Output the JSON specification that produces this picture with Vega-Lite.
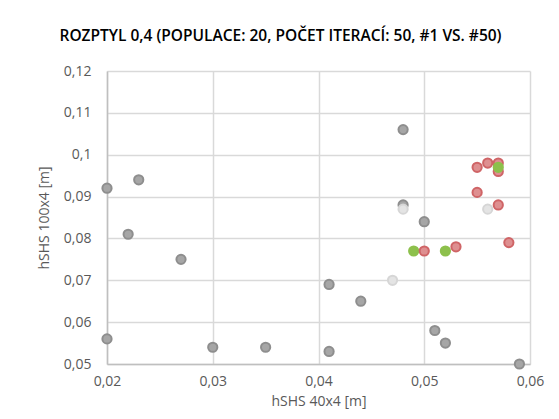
{
  "$schema": "https://vega.github.io/schema/vega-lite/v6.json",
  "width": 423,
  "height": 293,
  "autosize": "none",
  "padding": {"left": 107, "top": 71, "right": 29, "bottom": 55},
  "background": "white",
  "title": {
    "text": "ROZPTYL 0,4 (POPULACE: 20, POČET ITERACÍ: 50, #1 VS. #50)",
    "font": "Open Sans",
    "fontSize": 15.5,
    "fontWeight": 600,
    "color": "#000000",
    "anchor": "middle",
    "dx": -38,
    "offset": 20
  },
  "data": {
    "values": [
      {"x": 0.020, "y": 0.092, "s": "gray"},
      {"x": 0.020, "y": 0.056, "s": "gray"},
      {"x": 0.023, "y": 0.094, "s": "gray"},
      {"x": 0.022, "y": 0.081, "s": "gray"},
      {"x": 0.027, "y": 0.075, "s": "gray"},
      {"x": 0.030, "y": 0.054, "s": "gray"},
      {"x": 0.035, "y": 0.054, "s": "gray"},
      {"x": 0.041, "y": 0.053, "s": "gray"},
      {"x": 0.041, "y": 0.069, "s": "gray"},
      {"x": 0.044, "y": 0.065, "s": "gray"},
      {"x": 0.048, "y": 0.106, "s": "gray"},
      {"x": 0.048, "y": 0.088, "s": "gray"},
      {"x": 0.050, "y": 0.084, "s": "gray"},
      {"x": 0.051, "y": 0.058, "s": "gray"},
      {"x": 0.052, "y": 0.055, "s": "gray"},
      {"x": 0.059, "y": 0.050, "s": "gray"},
      {"x": 0.048, "y": 0.087, "s": "light"},
      {"x": 0.047, "y": 0.070, "s": "light"},
      {"x": 0.056, "y": 0.087, "s": "light"},
      {"x": 0.049, "y": 0.077, "s": "green"},
      {"x": 0.052, "y": 0.077, "s": "green"},
      {"x": 0.055, "y": 0.097, "s": "red"},
      {"x": 0.056, "y": 0.098, "s": "red"},
      {"x": 0.057, "y": 0.098, "s": "red"},
      {"x": 0.057, "y": 0.096, "s": "red"},
      {"x": 0.055, "y": 0.091, "s": "red"},
      {"x": 0.057, "y": 0.088, "s": "red"},
      {"x": 0.050, "y": 0.077, "s": "red"},
      {"x": 0.053, "y": 0.078, "s": "red"},
      {"x": 0.058, "y": 0.079, "s": "red"},
      {"x": 0.057, "y": 0.097, "s": "green"}
    ]
  },
  "mark": {"type": "point", "filled": true, "size": 85, "strokeWidth": 2, "opacity": 1, "shape": "circle"},
  "encoding": {
    "x": {
      "field": "x", "type": "quantitative",
      "scale": {"domain": [0.02, 0.06], "nice": false, "zero": false},
      "axis": {
        "title": "hSHS 40x4 [m]",
        "values": [0.02, 0.03, 0.04, 0.05, 0.06],
        "labelExpr": "replace(format(datum.value, '~g'), '.', ',')",
        "labelFlush": false,
        "grid": true, "gridColor": "#d9d9d9", "gridWidth": 1.5,
        "domainColor": "#bfbfbf", "domainWidth": 1.5,
        "ticks": false, "labelPadding": 10,
        "labelFont": "Open Sans", "labelFontSize": 14, "labelColor": "#595959",
        "titleFont": "Open Sans", "titleFontSize": 14, "titleFontWeight": "normal", "titleColor": "#595959",
        "titlePadding": 6
      }
    },
    "y": {
      "field": "y", "type": "quantitative",
      "scale": {"domain": [0.05, 0.12], "nice": false, "zero": false},
      "axis": {
        "title": "hSHS 100x4 [m]",
        "values": [0.05, 0.06, 0.07, 0.08, 0.09, 0.1, 0.11, 0.12],
        "labelExpr": "replace(format(datum.value, '~g'), '.', ',')",
        "labelFlush": false,
        "grid": true, "gridColor": "#d9d9d9", "gridWidth": 1.5,
        "domainColor": "#bfbfbf", "domainWidth": 1.5,
        "ticks": false, "labelPadding": 16,
        "labelFont": "Open Sans", "labelFontSize": 14, "labelColor": "#595959",
        "titleFont": "Open Sans", "titleFontSize": 14, "titleFontWeight": "normal", "titleColor": "#595959",
        "titlePadding": 12
      }
    },
    "fill": {
      "field": "s", "type": "nominal", "legend": null,
      "scale": {"domain": ["gray", "light", "red", "green"], "range": ["#a6a6a6", "#e4e4e4", "#de8f90", "#8dc04c"]}
    },
    "stroke": {
      "field": "s", "type": "nominal", "legend": null,
      "scale": {"domain": ["gray", "light", "red", "green"], "range": ["#8e8e8e", "#d6d6d6", "#cf6466", "#8dc04c"]}
    }
  },
  "config": {"view": {"stroke": null}}
}
